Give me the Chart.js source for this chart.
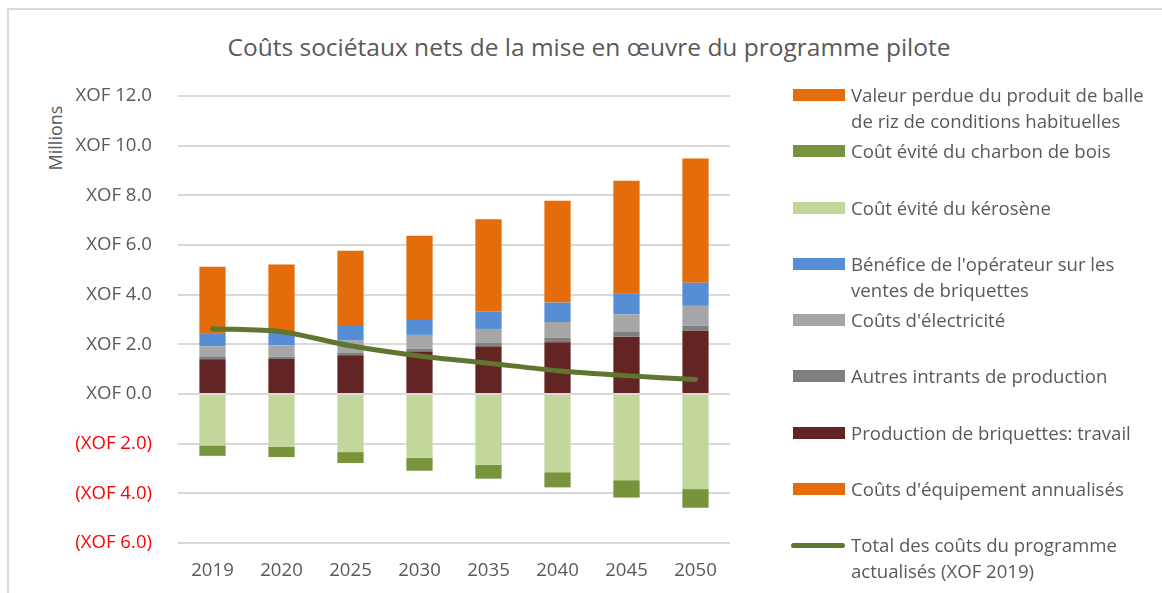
<!DOCTYPE html>
<html lang="fr">
<head>
<meta charset="utf-8">
<title>Coûts sociétaux nets</title>
<script src="https://cdn.jsdelivr.net/npm/chart.js@4.4.1/dist/chart.umd.min.js"></script>
<style>
  html, body { margin: 0; padding: 0; background: #fff; }
  body { width: 1162px; height: 593px; overflow: hidden; position: relative; font-family: "Open Sans", sans-serif; color: #595959; }
  #cadre { position: absolute; left: 7px; top: 8px; width: 1200px; height: 700px; border: 2px solid #d9d9d9; box-sizing: border-box; }
  #titre { position: absolute; left: 0; width: 1178px; top: 30px; text-align: center; font-size: 24.5px; line-height: 34px; }
  #unite { position: absolute; left: 55px; top: 138px; font-size: 18px; transform: translate(-50%, -50%) rotate(-90deg); white-space: nowrap; }
  #graph { position: absolute; left: 0; top: 0; }
  #legende { position: absolute; left: 0; top: 0; }
  .item { position: absolute; left: 793px; }
  .swatch { position: absolute; left: 0; width: 52px; height: 12px; }
  .ligne { position: absolute; left: -2px; width: 54px; height: 5px; border-radius: 3px; }
  .texte { position: absolute; left: 58px; white-space: nowrap; font-size: 18.6px; line-height: 26px; }
</style>
</head>
<body>
<div id="cadre"></div>
<div id="titre">Coûts sociétaux nets de la mise en œuvre du programme pilote</div>
<div id="unite">Millions</div>
<canvas id="graph" width="1162" height="593"></canvas>
<div id="legende"></div>
<script>
// années
const annees = ["2019", "2020", "2025", "2030", "2035", "2040", "2045", "2050"];

// composantes (millions XOF)
const equipement = [0, 0, 0, 0, 0, 0, 0, 0];
const travail = [1.40, 1.41, 1.56, 1.71, 1.91, 2.08, 2.31, 2.55];
const autresIntrants = [0.09, 0.09, 0.09, 0.12, 0.15, 0.19, 0.19, 0.20];
const electricite = [0.43, 0.46, 0.50, 0.55, 0.56, 0.63, 0.70, 0.80];
const beneficeOperateur = [0.53, 0.57, 0.59, 0.64, 0.71, 0.78, 0.86, 0.93];
const kerosene = [-2.07, -2.12, -2.34, -2.58, -2.85, -3.15, -3.47, -3.83];
const charbon = [-0.42, -0.42, -0.44, -0.51, -0.56, -0.61, -0.70, -0.75];
const valeurPerdue = [2.67, 2.68, 3.03, 3.35, 3.71, 4.10, 4.53, 5.00];
const totalActualise = [2.63, 2.51, 1.94, 1.53, 1.24, 0.94, 0.74, 0.58];

const yMin = -6;
const yMax = 12;
const yPas = 2;

const gris = "#595959";
const police = "'Open Sans', sans-serif";

// ordre de la légende (comme Excel)
const legendeOrdre = [
  { nom: ["Valeur perdue du produit de balle", "de riz de conditions habituelles"], couleur: "#e46c0a" },
  { nom: ["Coût évité du charbon de bois"], couleur: "#77933c" },
  { nom: ["Coût évité du kérosène"], couleur: "#c3d69b" },
  { nom: ["Bénéfice de l'opérateur sur les", "ventes de briquettes"], couleur: "#558ed5" },
  { nom: ["Coûts d'électricité"], couleur: "#a6a6a6" },
  { nom: ["Autres intrants de production"], couleur: "#7f7f7f" },
  { nom: ["Production de briquettes: travail"], couleur: "#632523" },
  { nom: ["Coûts d'équipement annualisés"], couleur: "#e46c0a" },
  { nom: ["Total des coûts du programme", "actualisés (XOF 2019)"], couleur: "#5f7530", ligne: true },
];

function barre(nom, valeurs, couleur) {
  return {
    type: "bar",
    label: nom,
    data: valeurs,
    backgroundColor: couleur,
    borderWidth: 0,
    stack: "s",
    order: 2,
  };
}

const ctx = document.getElementById("graph").getContext("2d");

new Chart(ctx, {
  type: "bar",
  data: {
    labels: annees,
    datasets: [
      {
        type: "line",
        label: "Total des coûts du programme actualisés (XOF 2019)",
        data: totalActualise,
        borderColor: "#5f7530",
        borderWidth: 5,
        borderCapStyle: "round",
        pointRadius: 0,
        tension: 0.3,
        fill: false,
        order: 1,
      },
      barre("Coûts d'équipement annualisés", equipement, "#e46c0a"),
      barre("Production de briquettes: travail", travail, "#632523"),
      barre("Autres intrants de production", autresIntrants, "#7f7f7f"),
      barre("Coûts d'électricité", electricite, "#a6a6a6"),
      barre("Bénéfice de l'opérateur sur les ventes de briquettes", beneficeOperateur, "#558ed5"),
      barre("Coût évité du kérosène", kerosene, "#c3d69b"),
      barre("Coût évité du charbon de bois", charbon, "#77933c"),
      barre("Valeur perdue du produit de balle de riz de conditions habituelles", valeurPerdue, "#e46c0a"),
    ],
  },
  options: {
    responsive: false,
    animation: false,
    layout: { padding: { left: 0, right: 432, top: 96, bottom: 0 } },
    datasets: { bar: { categoryPercentage: 1, barPercentage: 0.38 } },
    plugins: {
      legend: { display: false },
      title: { display: false },
      tooltip: { enabled: false },
    },
    scales: {
      x: {
        stacked: true,
        grid: { display: false, drawTicks: false },
        border: { display: false },
        ticks: { color: gris, font: { family: police, size: 18.6 }, padding: 17 },
        afterFit: (s) => { s.height = 50; },
      },
      y: {
        stacked: true,
        min: yMin,
        max: yMax,
        grid: { color: "#d9d9d9", lineWidth: 2, drawTicks: false },
        border: { display: false },
        ticks: {
          stepSize: yPas,
          padding: 26,
          font: { family: police, size: 18.6 },
          color: (c) => (c.tick.value < 0 ? "#ff0000" : gris),
          callback: (v) => (v < 0 ? `(XOF ${Math.abs(v).toFixed(1)})` : `XOF ${v.toFixed(1)}`),
        },
        afterFit: (s) => { s.width = 178; },
      },
    },
  },
});

// légende à droite
const legende = document.getElementById("legende");
legendeOrdre.forEach((item, i) => {
  const centre = 95 + i * 56.25;
  const marque = item.ligne
    ? `<div class="ligne" style="top:-2.5px;background:${item.couleur}"></div>`
    : `<div class="swatch" style="top:-6px;background:${item.couleur}"></div>`;
  const html = `
    <div class="item" style="top:${centre}px">
      ${marque}
      <div class="texte" style="top:-13px">${item.nom.join("<br>")}</div>
    </div>`;
  legende.insertAdjacentHTML("beforeend", html);
});
</script>
</body>
</html>
